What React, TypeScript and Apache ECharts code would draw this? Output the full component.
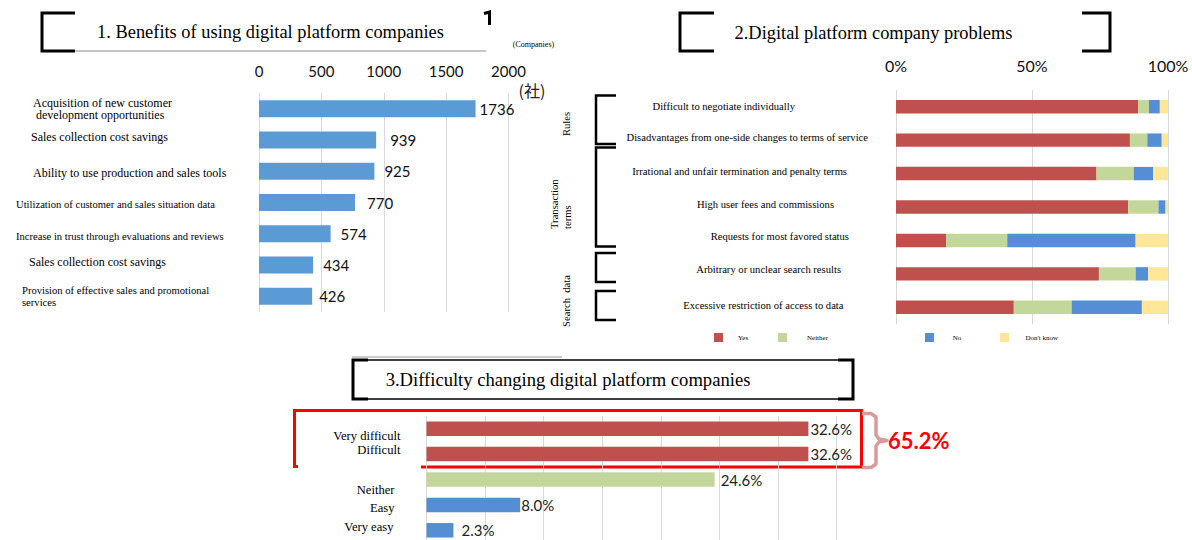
import React, { useEffect, useRef } from "react";
import * as echarts from "echarts";

// ---------- data ----------
const benefitCategories = [
  "Acquisition of new customer\n development opportunities",
  "Sales collection cost savings",
  "Ability to use production and sales tools",
  "Utilization of customer and sales situation data",
  "Increase in trust through evaluations and reviews",
  "Sales collection cost savings",
  "Provision of effective sales and promotional\nservices",
];
const benefitValues = [1736, 939, 925, 770, 574, 434, 426];
const benefitTicks = { min: 0, max: 2000, interval: 500 };

const problemCategories = [
  "Difficult to negotiate individually",
  "Disadvantages from one-side changes to terms of service",
  "Irrational and unfair termination and penalty terms",
  "High user fees and commissions",
  "Requests for most favored status",
  "Arbitrary or unclear search results",
  "Excessive restriction of access to data",
];
const problemSeriesNames = ["Yes", "Neither", "No", "Don't know"];
const problemYes = [89, 86, 73.7, 85.4, 18.4, 74.6, 43.3];
const problemNeither = [4, 6.4, 13.7, 11.1, 22.5, 13.5, 21.3];
const problemNo = [4, 5.3, 7.1, 2.6, 47.2, 4.6, 25.8];
const problemDontKnow = [3, 2.3, 5.5, 0.9, 11.9, 7.3, 9.6];
const problemGroups = ["Rules", "Transaction\nterms", "Search  data"];

const difficultyCategories = ["Very difficult", "Difficult", "Neither", "Easy", "Very easy"];
const difficultyValues = [32.6, 32.6, 24.6, 8.0, 2.3];
const difficultyTotalLabel = "65.2%";

// ---------- styles ----------
const SERIF = "'Liberation Serif', 'Times New Roman', serif";
const SANS = "Lato, 'Liberation Sans', sans-serif";
const GRID_COLOR = "#D9D9D9";
const RED = "#C0504D";
const GREEN = "#C4D79B";
const BLUE = "#558ED5";
const YELLOW = "#FFE699";

const benefitLabelLeft = [17, 15, 17, 0, 0, 13, 6];
const benefitLabelSize = [12, 12, 12, 10.6, 10.6, 12, 10.6];
const benefitLabelLineHeight = [12, 13, 13, 12, 12, 13, 12];
const benefitLabelShift = [0, -2.5, 2, 2, 3, -3, 0];
const benefitValueDistance = [4, 14, 10, 12, 10, 10, 7];

const problemLabelPadRight = [73, 0, 21, 34, 19, 27, 24.5];
const problemLabelShift = [-0.7, -2.4, -1.8, -2.9, -3.6, -4.4, -1.4];
const problemColors = [RED, GREEN, BLUE, YELLOW];
const legendLeft = [714, 778, 925, 1000];
const legendTextGap = [15, 20, 18.7, 16.4];

const difficultyLabelPadRight = [0, 0, 6, 6, 7];
const difficultyLabelShift = [7.3, -4.1, 10.2, 3.4, -3.6];
const difficultyColors = [RED, RED, "#C3D69B", BLUE, BLUE];
const difficultyValueDistance = [2, 2, 6, 1, 8];

function shiftPad(s: number): [number, number] {
  return s >= 0 ? [2 * s, 0] : [0, -2 * s];
}

export default function App() {
  const ref = useRef<HTMLDivElement>(null);

  useEffect(() => {
    document.body.style.margin = "0";
    if (!ref.current) return;
    const chart = echarts.init(ref.current, null, { renderer: "svg" });

    const benefitRich: any = {};
    benefitCategories.forEach((_, i) => {
      const [pt, pb] = shiftPad(benefitLabelShift[i]);
      benefitRich["b" + i] = {
        fontFamily: SERIF,
        fontSize: benefitLabelSize[i],
        color: "#000",
        lineHeight: benefitLabelLineHeight[i],
        padding: [pt, 0, pb, benefitLabelLeft[i]],
      };
    });
    const problemRich: any = {};
    problemCategories.forEach((_, i) => {
      const [pt, pb] = shiftPad(problemLabelShift[i]);
      problemRich["p" + i] = {
        fontFamily: SERIF,
        fontSize: 10.6,
        color: "#000",
        padding: [pt, problemLabelPadRight[i], pb, 0],
      };
    });
    const diffRich: any = {};
    difficultyCategories.forEach((_, i) => {
      const [pt, pb] = shiftPad(difficultyLabelShift[i]);
      diffRich["d" + i] = {
        fontFamily: SERIF,
        fontSize: 12.6,
        color: "#000",
        padding: [pt, difficultyLabelPadRight[i], pb, 0],
      };
    });

    const problemData = [problemYes, problemNeither, problemNo, problemDontKnow];

    const blk = (points: number[][], lw = 3, color = "#000") => ({
      type: "polyline",
      shape: { points },
      style: { stroke: color, lineWidth: lw, fill: null },
      silent: true,
    });
    const txt = (x: number, y: number, text: string, size: number, extra: any = {}) => ({
      type: "text",
      x,
      y,
      silent: true,
      style: {
        text,
        fontSize: size,
        fontFamily: SERIF,
        fill: "#000",
        textAlign: "center",
        textVerticalAlign: "middle",
        ...extra,
      },
    });

    const option: any = {
      animation: false,
      backgroundColor: "#fff",
      grid: [
        { left: 259, top: 93, width: 249.5, height: 219, outerBoundsMode: "none", containLabel: false },
        { left: 896, top: 90, width: 272, height: 234, outerBoundsMode: "none", containLabel: false },
        { left: 426.5, top: 416, width: 410, height: 127, outerBoundsMode: "none", containLabel: false },
      ],
      legend: problemSeriesNames.map((n, i) => ({
        left: legendLeft[i],
        top: 333,
        itemWidth: 9,
        itemHeight: 9,
        itemGap: 0,
        icon: "rect",
        padding: 0,
        data: [n],
        selectedMode: false,
        textStyle: {
          fontSize: 7,
          fontFamily: SERIF,
          color: "#000",
          padding: [0, 0, 0, legendTextGap[i] - 5],
        },
      })),
      xAxis: [
        {
          gridIndex: 0,
          type: "value",
          position: "top",
          ...benefitTicks,
          axisLine: { show: false },
          axisTick: { show: false },
          splitLine: { show: true, lineStyle: { color: GRID_COLOR, width: 1 } },
          axisLabel: {
            fontSize: 15,
            fontFamily: SANS,
            color: "#111",
            margin: 15,
            formatter: (v: number) => String(v),
          },
        },
        {
          gridIndex: 1,
          type: "value",
          position: "top",
          min: 0,
          max: 100,
          interval: 50,
          axisLine: { show: false },
          axisTick: { show: false },
          splitLine: { show: true, lineStyle: { color: GRID_COLOR, width: 1 } },
          axisLabel: { fontSize: 16, fontFamily: SANS, color: "#111", margin: 17, formatter: "{value}%" },
        },
        {
          gridIndex: 2,
          type: "value",
          min: 0,
          max: 35,
          interval: 5,
          axisLine: { show: false },
          axisTick: { show: false },
          splitLine: { show: true, lineStyle: { color: GRID_COLOR, width: 1 } },
          axisLabel: { show: false },
        },
      ],
      yAxis: [
        {
          gridIndex: 0,
          type: "category",
          inverse: true,
          data: benefitCategories,
          axisLine: { show: false },
          axisTick: { show: false },
          axisLabel: {
            interval: 0,
            align: "left",
            margin: 243,
            formatter: (v: string, i: number) =>
              v.split("\n").map((l) => `{b${i}|${l}}`).join("\n"),
            rich: benefitRich,
          },
        },
        {
          gridIndex: 1,
          type: "category",
          inverse: true,
          data: problemCategories,
          axisLine: { show: false },
          axisTick: { show: false },
          axisLabel: {
            interval: 0,
            align: "right",
            margin: 28,
            formatter: (v: string, i: number) => `{p${i}|${v}}`,
            rich: problemRich,
          },
        },
        {
          gridIndex: 2,
          type: "category",
          inverse: true,
          data: difficultyCategories,
          axisLine: { show: false },
          axisTick: { show: false },
          axisLabel: {
            interval: 0,
            align: "right",
            margin: 26,
            formatter: (v: string, i: number) => `{d${i}|${v}}`,
            rich: diffRich,
          },
        },
      ],
      series: [
        {
          type: "bar",
          name: "Companies",
          xAxisIndex: 0,
          yAxisIndex: 0,
          barWidth: 17,
          itemStyle: { color: "#5B9BD5" },
          data: benefitValues.map((v, i) => ({
            value: v,
            label: { distance: benefitValueDistance[i] },
          })),
          label: {
            show: true,
            position: "right",
            fontSize: 15,
            fontFamily: SANS,
            color: "#111",
          },
        },
        ...problemSeriesNames.map((n, si) => ({
          type: "bar",
          name: n,
          stack: "problems",
          xAxisIndex: 1,
          yAxisIndex: 1,
          barWidth: 13.4,
          itemStyle: { color: problemColors[si] },
          data: problemData[si],
        })),
        {
          type: "bar",
          name: "Difficulty",
          xAxisIndex: 2,
          yAxisIndex: 2,
          barWidth: 14.5,
          data: difficultyValues.map((v, i) => ({
            value: v,
            itemStyle: { color: difficultyColors[i] },
            label: { distance: difficultyValueDistance[i] },
          })),
          label: {
            show: true,
            position: "right",
            fontSize: 15,
            fontFamily: SANS,
            color: "#222",
            formatter: (p: any) => Number(p.value).toFixed(1) + "%",
          },
        },
      ],
      graphic: [
        // Panel 1 title
        blk([[75, 13], [42, 13], [42, 51], [75, 51]]),
        { type: "line", shape: { x1: 75, y1: 51, x2: 486, y2: 51 }, style: { stroke: "#8c8c8c", lineWidth: 1 }, silent: true },
        blk([[484, 13.5], [489.5, 12], [489.5, 25]]),
        txt(270.5, 32, "1. Benefits of using digital platform companies", 18.4),
        txt(533.5, 44, "(Companies)", 8),
        txt(532, 90, "(社)", 16, { fontFamily: "'Noto Sans CJK JP', sans-serif", fill: "#222" }),
        // Panel 2 title
        blk([[714, 13], [680, 13], [680, 51], [714, 51]]),
        blk([[1082, 13], [1110, 13], [1110, 51], [1082, 51]]),
        txt(873.5, 33, "2.Digital platform company problems", 18.4),
        // Panel 2 group brackets
        blk([[616, 95.5], [596, 95.5], [596, 144], [616, 144]], 2.5),
        blk([[616, 147.5], [596, 147.5], [596, 246.5], [616, 246.5]], 2.5),
        blk([[616, 253], [596, 253], [596, 282], [616, 282]], 2.5),
        blk([[616, 291], [596, 291], [596, 320], [616, 320]], 2.5),
        { ...txt(566, 124, problemGroups[0], 10.6), rotation: Math.PI / 2 },
        {
          ...txt(560.5, 229, problemGroups[1], 10.6, { textAlign: "left", lineHeight: 13 }),
          rotation: Math.PI / 2,
        },
        { ...txt(566, 301, problemGroups[2], 10.6), rotation: Math.PI / 2 },
        // Panel 3 title box
        { type: "line", shape: { x1: 352, y1: 357, x2: 562, y2: 357 }, style: { stroke: "#9a9a9a", lineWidth: 1 }, silent: true },
        {
          type: "rect",
          shape: { x: 353, y: 360, width: 500, height: 39 },
          style: { fill: null, stroke: "#000", lineWidth: 1.5 },
          silent: true,
        },
        blk([[368, 360], [353, 360], [353, 399], [368, 399]]),
        blk([[838, 360], [853, 360], [853, 399], [838, 399]]),
        txt(568, 379.5, "3.Difficulty changing digital platform companies", 18.6),
        // Red highlight box
        blk([[298, 466.5], [294.5, 466.5], [294.5, 410.5], [861.5, 410.5], [861.5, 467], [421, 467]], 3, "#FF0000"),
        // Pink brace
        {
          type: "polyline",
          shape: {
            points: [
              [862, 413.5], [871, 413.5], [876, 417], [876, 435], [879, 439], [887, 440.5],
              [879, 442], [876, 446], [876, 464], [871, 467.5], [862, 467.5],
            ],
          },
          style: { stroke: "#D99A9A", lineWidth: 3.5, fill: null, lineJoin: "round" },
          silent: true,
        },
        txt(888, 440, difficultyTotalLabel, 22, {
          textAlign: "left",
          fontFamily: SANS,
          fontWeight: "bold",
          fill: "#FF0000",
        }),
      ],
    };

    chart.setOption(option);
    return () => chart.dispose();
  }, []);

  return <div ref={ref} style={{ width: 1192, height: 540 }} />;
}
